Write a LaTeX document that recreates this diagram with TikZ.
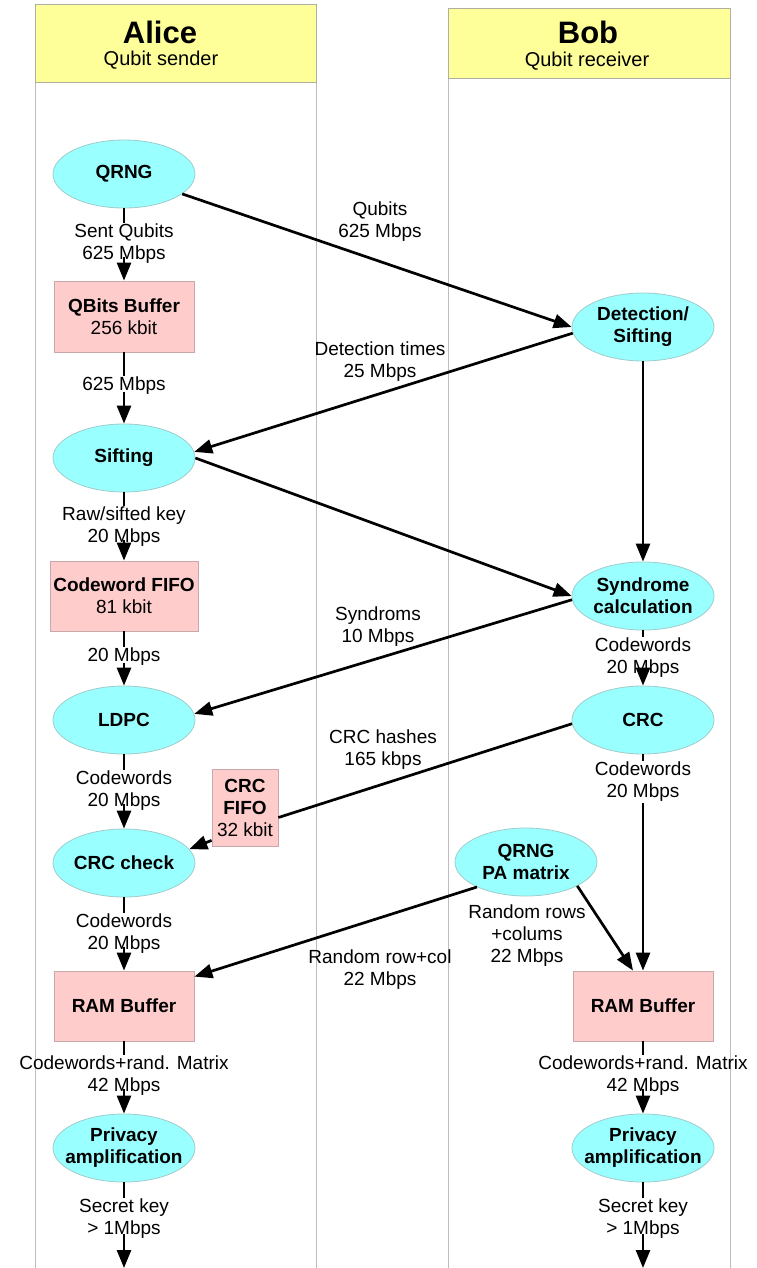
\documentclass[tikz,border=0pt]{standalone}
\usepackage{fontspec}
\setmainfont{Liberation Sans}
\usetikzlibrary{shapes.geometric,arrows.meta}

\definecolor{lanegray}{HTML}{BDBDBD}
\definecolor{hdrfill}{HTML}{FFFF99}
\definecolor{hdrline}{HTML}{B0B0A0}
\definecolor{procfill}{HTML}{99FFFF}
\definecolor{procline}{HTML}{A0CCCC}
\definecolor{buffill}{HTML}{FFCCCC}
\definecolor{bufline}{HTML}{C8A8A8}

% centred line of zero width, so the ellipse keeps its fixed size
\newcommand{\zline}[1]{\makebox[0pt]{#1}}

\begin{document}
\begin{tikzpicture}[x=1pt,y=-1pt,
  txt/.style={font=\fontsize{19}{22}\selectfont, align=center, inner sep=1pt},
  proc/.style={ellipse, draw=procline, fill=procfill, line width=0.8pt,
    minimum width=142pt, minimum height=68pt, inner sep=0pt, align=center,
    font=\fontsize{19}{22}\selectfont\bfseries},
  buf/.style={rectangle, draw=bufline, fill=buffill, line width=0.8pt,
    inner sep=0pt, align=center, font=\fontsize{19}{22}\selectfont},
  hdr/.style={rectangle, draw=hdrline, fill=hdrfill, line width=0.8pt},
  ttl/.style={font=\fontsize{31}{34}\selectfont\bfseries, inner sep=0pt},
  sub/.style={font=\fontsize{20}{22}\selectfont, inner sep=0pt},
  flow/.style={line width=2.7pt, -{Triangle[length=18pt,width=14pt]}},
  plain/.style={line width=2.7pt},
  lane/.style={draw=lanegray, line width=0.8pt}
]
\useasboundingbox (0,0) rectangle (756,1268);
\fill[white] (0,0) rectangle (756,1268);

% swimlanes
\draw[lane] (35,82) -- (35,1268);
\draw[lane] (316,82) -- (316,1268);
\draw[lane] (448,78) -- (448,1268);
\draw[lane] (730,78) -- (730,1268);
\draw[hdr] (35,4) rectangle (316,82);
\draw[hdr] (448,8) rectangle (730,78);
\node[ttl] (alicettl) at (160,32) {Alice};
\node[sub] (alicesub) at (161,60) {Qubit sender};
\node[ttl] (bobttl) at (588,32) {Bob};
\node[sub] (bobsub) at (587,61) {Qubit receiver};

% Alice column
\node[proc] (qrng) at (124,174) {QRNG};
\node[txt] (l1) at (124,244) {Sent Qubits\\625 Mbps};
\node[buf, minimum width=140pt, minimum height=71pt] (qbuf) at (124,316.5) {\textbf{QBits Buffer}\\256 kbit};
\node[txt] (l2) at (124,386) {625 Mbps};
\node[proc] (sift) at (124,458) {Sifting};
\node[txt] (l3) at (124,527) {Raw/sifted key\\20 Mbps};
\node[buf, minimum width=148pt, minimum height=70pt] (cwfifo) at (124,596) {\textbf{Codeword FIFO}\\81 kbit};
\node[txt] (l4) at (124,657) {20 Mbps};
\node[proc] (ldpc) at (124,720) {LDPC};
\node[txt] (l5) at (124,791) {Codewords\\20 Mbps};
\node[proc] (crcchk) at (124,863) {CRC check};
\node[txt] (l6) at (124,934) {Codewords\\20 Mbps};
\node[buf, minimum width=140pt, minimum height=70pt] (aram) at (124,1006) {\textbf{RAM Buffer}};
\node[txt] (l7) at (124,1076) {Codewords+rand. Matrix\\42 Mbps};
\node[proc] (apriv) at (124,1148) {\zline{Privacy}\\\zline{amplification}};
\node[txt] (l8) at (124,1219) {Secret key\\> 1Mbps};
\coordinate (aout) at (124,1268);

\node[buf, minimum width=66pt, minimum height=77pt] (crcfifo) at (245,807.5) {\textbf{CRC}\\\textbf{FIFO}\\32 kbit};

% Bob column
\node[proc] (det) at (643,327) {Detection/\\Sifting};
\node[proc] (syn) at (643,596) {\zline{Syndrome}\\\zline{calculation}};
\node[txt] (b1) at (643,658) {Codewords\\20 Mbps};
\node[proc] (crc) at (643,720) {CRC};
\node[txt] (b2) at (643,782) {Codewords\\20 Mbps};
\node[proc] (qpa) at (526,862) {QRNG\\PA matrix};
\node[buf, minimum width=140pt, minimum height=70pt] (bram) at (643,1006) {\textbf{RAM Buffer}};
\node[txt] (b3) at (643,1076) {Codewords+rand. Matrix\\42 Mbps};
\node[proc] (bpriv) at (643,1148) {\zline{Privacy}\\\zline{amplification}};
\node[txt] (b4) at (643,1219) {Secret key\\> 1Mbps};
\coordinate (bout) at (643,1268);

% link labels between the lanes
\node[txt] (m1) at (380,222) {Qubits\\625 Mbps};
\node[txt] (m2) at (380,362) {Detection times\\25 Mbps};
\node[txt] (m3) at (378,627) {Syndroms\\10 Mbps};
\node[txt] (m4) at (383,750) {CRC hashes\\165 kbps};
\node[txt] (m5) at (380,970) {Random row+col\\22 Mbps};
\node[txt] (m6) at (527,936) {Random rows\\+colums\\22 Mbps};

% Alice flow
\draw[plain] (qrng.south) -- (l1.north);
\draw[flow] ([yshift=8pt]l1.south) -- (qbuf.north);
\draw[plain] (qbuf.south) -- (l2.north);
\draw[flow] ([yshift=4pt]l2.south) -- (sift.north);
\draw[plain] (sift.south) -- (l3.north);
\draw[flow] ([yshift=8pt]l3.south) -- (cwfifo.north);
\draw[plain] (cwfifo.south) -- (l4.north);
\draw[flow] ([yshift=4pt]l4.south) -- (ldpc.north);
\draw[plain] (ldpc.south) -- (l5.north);
\draw[flow] ([yshift=8pt]l5.south) -- (crcchk.north);
\draw[plain] (crcchk.south) -- (l6.north);
\draw[flow] ([yshift=8pt]l6.south) -- (aram.north);
\draw[plain] (aram.south) -- (l7.north);
\draw[flow] ([yshift=8pt]l7.south) -- (apriv.north);
\draw[plain] (apriv.south) -- (l8.north);
\draw[flow] ([yshift=6pt]l8.south) -- (aout);

% Bob flow
\draw[flow] (det) -- (syn);
\draw[plain] (syn.south) -- (b1.north);
\draw[flow] ([yshift=8pt]b1.south) -- (crc.north);
\draw[plain] (crc.south) -- (b2.north);
\draw[flow] (b2.south) -- (bram.north);
\draw[plain] (bram.south) -- (b3.north);
\draw[flow] ([yshift=8pt]b3.south) -- (bpriv.north);
\draw[plain] (bpriv.south) -- (b4.north);
\draw[flow] ([yshift=6pt]b4.south) -- (bout);

% exchanges between Alice and Bob
\draw[flow] (qrng) -- (det.west);
\draw[flow] (det.185) -- (sift.5);
\draw[flow] (sift.east) -- (syn.west);
\draw[flow] (syn.183) -- (ldpc.5);
\draw[plain] (crc.183) -- ([yshift=-10pt]crcfifo.east);
\draw[flow] ([yshift=6pt]crcfifo.south west) -- (crcchk.12);
\draw[flow] (qpa.207) -- ([yshift=-6pt]aram.north east);
\draw[flow] (qpa.335) -- ([xshift=-10pt]bram.north);
\end{tikzpicture}
\end{document}
